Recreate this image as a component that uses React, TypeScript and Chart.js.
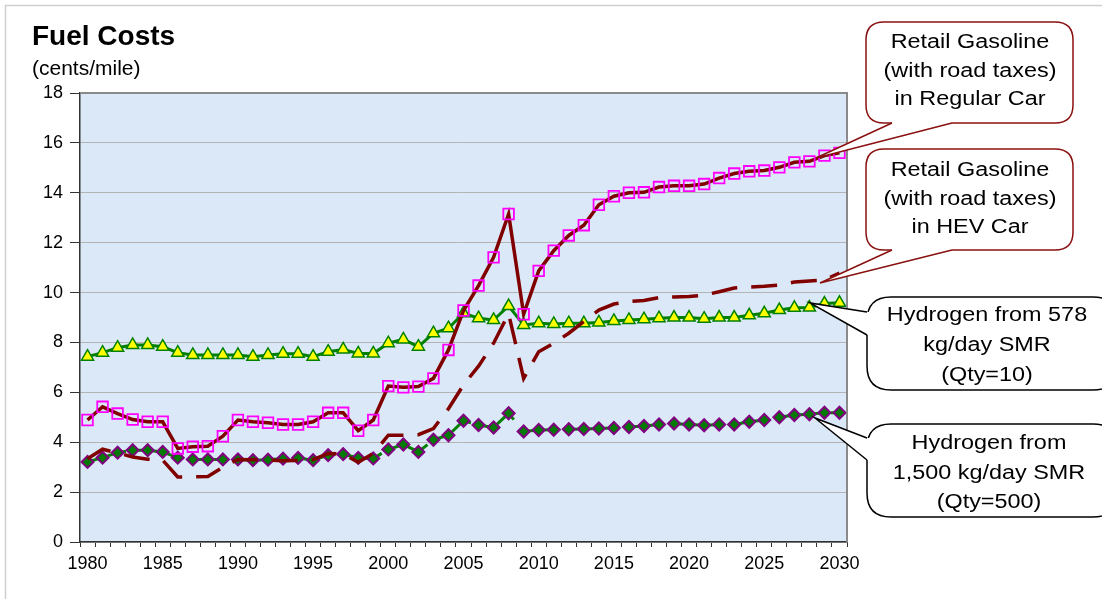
import React, { useEffect, useRef } from "react";
import { Chart, registerables } from "chart.js";

Chart.register(...registerables);

const years: number[] = [
  1980, 1981, 1982, 1983, 1984, 1985, 1986, 1987, 1988, 1989,
  1990, 1991, 1992, 1993, 1994, 1995, 1996, 1997, 1998, 1999,
  2000, 2001, 2002, 2003, 2004, 2005, 2006, 2007, 2008, 2009,
  2010, 2011, 2012, 2013, 2014, 2015, 2016, 2017, 2018, 2019,
  2020, 2021, 2022, 2023, 2024, 2025, 2026, 2027, 2028, 2029, 2030,
];

const labeledYears: number[] = [1980, 1985, 1990, 1995, 2000, 2005, 2010, 2015, 2020, 2025, 2030];

const yTicks = { min: 0, max: 18, step: 2 };

// Retail gasoline (with road taxes) in regular car
const regularCar: number[] = [
  4.89, 5.42, 5.15, 4.91, 4.82, 4.82, 3.75, 3.82, 3.84, 4.24,
  4.89, 4.82, 4.78, 4.71, 4.71, 4.82, 5.18, 5.18, 4.46, 4.89,
  6.25, 6.2, 6.23, 6.56, 7.7, 9.28, 10.28, 11.41, 13.15, 9.13,
  10.87, 11.68, 12.29, 12.7, 13.52, 13.86, 14.0, 14.02, 14.23, 14.28,
  14.28, 14.35, 14.59, 14.77, 14.86, 14.89, 15.02, 15.22, 15.26, 15.49, 15.6,
];

// Retail gasoline (with road taxes) in HEV car
const hevCar: number[] = [
  3.34, 3.72, 3.57, 3.41, 3.32, 3.28, 2.61, 2.61, 2.63, 3.0,
  3.31, 3.3, 3.28, 3.26, 3.27, 3.3, 3.55, 3.52, 3.2, 3.55,
  4.28, 4.28, 4.3, 4.55, 5.34, 6.3, 7.05, 7.97, 9.15, 6.56,
  7.63, 7.97, 8.37, 8.84, 9.3, 9.54, 9.64, 9.68, 9.8, 9.82,
  9.84, 9.9, 10.03, 10.18, 10.22, 10.25, 10.3, 10.42, 10.46, 10.5, 10.78,
];

// Hydrogen from 578 kg/day SMR (Qty=10)
const h2Small: number[] = [
  7.43, 7.59, 7.79, 7.9, 7.9, 7.83, 7.59, 7.5, 7.5, 7.5,
  7.5, 7.43, 7.5, 7.55, 7.55, 7.43, 7.63, 7.72, 7.56, 7.56,
  7.97, 8.12, 7.83, 8.37, 8.57, 9.17, 8.97, 8.9, 9.46, 8.7,
  8.77, 8.74, 8.77, 8.77, 8.8, 8.86, 8.9, 8.93, 8.97, 9.0,
  9.0, 8.95, 9.0, 9.0, 9.09, 9.17, 9.3, 9.39, 9.4, 9.56, 9.59,
];

// Hydrogen from 1,500 kg/day SMR (Qty=500)
const h2Large: number[] = [
  3.21, 3.38, 3.58, 3.68, 3.68, 3.61, 3.38, 3.31, 3.31, 3.31,
  3.31, 3.28, 3.3, 3.34, 3.37, 3.28, 3.48, 3.52, 3.37, 3.35,
  3.71, 3.91, 3.61, 4.1, 4.28, 4.86, 4.69, 4.59, 5.16, 4.43,
  4.49, 4.5, 4.52, 4.53, 4.55, 4.57, 4.61, 4.65, 4.71, 4.75,
  4.71, 4.68, 4.71, 4.71, 4.82, 4.89, 5.0, 5.09, 5.12, 5.18, 5.18,
];

const titleText = "Fuel Costs";
const unitText = "(cents/mile)";

const calloutRegular: string[] = ["Retail Gasoline", "(with road taxes)", "in Regular Car"];
const calloutHev: string[] = ["Retail Gasoline", "(with road taxes)", "in HEV Car"];
const calloutH2Small: string[] = ["Hydrogen from 578", "kg/day SMR", "(Qty=10)"];
const calloutH2Large: string[] = ["Hydrogen from", "1,500 kg/day SMR", "(Qty=500)"];

const FONT = '"Liberation Sans", Arial, Helvetica, sans-serif';

type Pt = [number, number];

function roundRectPath(ctx: CanvasRenderingContext2D, x: number, y: number, w: number, h: number, r: number) {
  ctx.beginPath();
  ctx.moveTo(x + r, y);
  ctx.lineTo(x + w - r, y);
  ctx.quadraticCurveTo(x + w, y, x + w, y + r);
  ctx.lineTo(x + w, y + h - r);
  ctx.quadraticCurveTo(x + w, y + h, x + w - r, y + h);
  ctx.lineTo(x + r, y + h);
  ctx.quadraticCurveTo(x, y + h, x, y + h - r);
  ctx.lineTo(x, y + r);
  ctx.quadraticCurveTo(x, y, x + r, y);
  ctx.closePath();
}

function drawCallout(
  ctx: CanvasRenderingContext2D,
  box: { x: number; y: number; w: number; h: number; r: number },
  stroke: string,
  base1: Pt,
  base2: Pt,
  inward: Pt,
  tip: Pt,
  lines: string[],
  lineYs: number[],
  cx: number
) {
  ctx.save();
  ctx.lineWidth = 1.5;
  ctx.strokeStyle = stroke;
  ctx.fillStyle = "#ffffff";
  roundRectPath(ctx, box.x, box.y, box.w, box.h, box.r);
  ctx.fill();
  ctx.stroke();
  ctx.beginPath();
  ctx.moveTo(base1[0], base1[1]);
  ctx.lineTo(tip[0], tip[1]);
  ctx.lineTo(base2[0], base2[1]);
  ctx.lineTo(base2[0] + inward[0], base2[1] + inward[1]);
  ctx.lineTo(base1[0] + inward[0], base1[1] + inward[1]);
  ctx.closePath();
  ctx.fill();
  ctx.beginPath();
  ctx.moveTo(base1[0], base1[1]);
  ctx.lineTo(tip[0], tip[1]);
  ctx.lineTo(base2[0], base2[1]);
  ctx.stroke();
  ctx.fillStyle = "#000000";
  ctx.font = `20px ${FONT}`;
  ctx.textAlign = "center";
  ctx.textBaseline = "middle";
  lines.forEach((t, i) => {
    ctx.save();
    ctx.translate(cx, lineYs[i]);
    ctx.scale(1.17, 1);
    ctx.fillText(t, 0, 0);
    ctx.restore();
  });
  ctx.restore();
}

const decorPlugin = {
  id: "decor",
  beforeDraw(chart: any) {
    const { ctx, chartArea } = chart;
    ctx.save();
    ctx.fillStyle = "#ffffff";
    ctx.fillRect(0, 0, chart.width, chart.height);
    ctx.strokeStyle = "#cfcfcf";
    ctx.lineWidth = 1.5;
    ctx.strokeRect(5.5, 5.5, chart.width + 20, chart.height + 20);
    ctx.fillStyle = "#dbe8f7";
    ctx.fillRect(chartArea.left, chartArea.top, chartArea.right - chartArea.left, chartArea.bottom - chartArea.top);
    ctx.restore();
  },
  afterDraw(chart: any) {
    const { ctx, chartArea } = chart;
    ctx.save();
    ctx.strokeStyle = "#8a8a8a";
    ctx.lineWidth = 2;
    ctx.beginPath();
    ctx.moveTo(chartArea.left, chartArea.top);
    ctx.lineTo(chartArea.right, chartArea.top);
    ctx.lineTo(chartArea.right, chartArea.bottom);
    ctx.stroke();
    ctx.fillStyle = "#000000";
    ctx.textAlign = "left";
    ctx.textBaseline = "alphabetic";
    ctx.font = `bold 28px ${FONT}`;
    ctx.fillText(titleText, 32, 45);
    ctx.font = `21px ${FONT}`;
    ctx.fillText(unitText, 32, 75);
    ctx.restore();

    const red = "#8b1010";
    drawCallout(ctx, { x: 866, y: 22, w: 207, h: 101, r: 18 }, red,
      [892, 123], [952, 123], [0, -3], [816, 158], calloutRegular, [42, 71, 99], 970);
    drawCallout(ctx, { x: 866, y: 149, w: 207, h: 101, r: 18 }, red,
      [892, 250], [952, 250], [0, -3], [820, 283], calloutHev, [170, 199, 227], 970);
    drawCallout(ctx, { x: 867, y: 297, w: 250, h: 93, r: 24 }, "#000000",
      [867, 312], [867, 335], [3, 0], [810, 303], calloutH2Small, [315, 345, 375], 987);
    drawCallout(ctx, { x: 867, y: 424, w: 250, h: 93, r: 24 }, "#000000",
      [867, 438], [867, 460], [3, 0], [815, 418], calloutH2Large, [443, 473, 502], 989);
  },
};

export default function App() {
  const ref = useRef<HTMLCanvasElement | null>(null);

  useEffect(() => {
    if (!ref.current) return;
    const chart = new Chart(ref.current, {
      type: "line",
      data: {
        labels: years.map(String),
        datasets: [
          {
            label: "Regular Car",
            data: regularCar,
            borderColor: "#800000",
            borderWidth: 3.5,
            pointStyle: "rect",
            pointRadius: 7.5,
            pointBorderColor: "#ff00ff",
            pointBackgroundColor: "rgba(0,0,0,0)",
            pointBorderWidth: 1.8,
            tension: 0,
            order: 0,
          },
          {
            label: "HEV Car",
            data: hevCar,
            borderColor: "#800000",
            borderWidth: 3.5,
            borderDash: [26, 14],
            pointRadius: 0,
            tension: 0,
            order: 1,
          },
          {
            label: "H2 578",
            data: h2Small,
            borderColor: "#008000",
            borderWidth: 3,
            pointStyle: "triangle",
            pointRadius: 7,
            pointBackgroundColor: "#ffff00",
            pointBorderColor: "#008000",
            pointBorderWidth: 1.5,
            tension: 0,
            order: 2,
          },
          {
            label: "H2 1500",
            data: h2Large,
            borderColor: "#008000",
            borderWidth: 3,
            borderDash: [40, 12],
            pointStyle: "rectRot",
            pointRadius: 6,
            pointBackgroundColor: "#007a00",
            pointBorderColor: "#800080",
            pointBorderWidth: 2,
            tension: 0,
            order: 3,
          },
        ],
      },
      options: {
        animation: false,
        responsive: false,
        devicePixelRatio: 1,
        layout: { padding: { left: 0, top: 93, right: 255, bottom: 0 } },
        plugins: {
          legend: { display: false },
          title: { display: false },
          tooltip: { enabled: false },
        },
        scales: {
          x: {
            type: "category",
            offset: true,
            grid: {
              display: true,
              drawOnChartArea: false,
              drawTicks: true,
              tickLength: 5,
              tickColor: "#333333",
              offset: true,
            },
            border: { display: true, color: "#333333", width: 1.5 },
            ticks: {
              autoSkip: false,
              maxRotation: 0,
              minRotation: 0,
              padding: 6,
              color: "#000000",
              font: { family: FONT, size: 18 },
              callback: (_v: any, i: number) =>
                labeledYears.includes(years[i]) ? String(years[i]) : "",
            },
            afterFit: (s: any) => {
              s.height = 57;
            },
          },
          y: {
            min: yTicks.min,
            max: yTicks.max,
            ticks: {
              stepSize: yTicks.step,
              padding: 7,
              color: "#000000",
              font: { family: FONT, size: 18 },
            },
            grid: { color: "#b4b4b4", lineWidth: 1, tickLength: 10, tickColor: "#333333" },
            border: { display: true, color: "#333333", width: 1.5 },
            afterFit: (s: any) => {
              s.width = 80;
            },
          },
        },
      } as any,
      plugins: [decorPlugin],
    });
    return () => chart.destroy();
  }, []);

  return (
    <div style={{ position: "absolute", left: 0, top: 0, width: 1102, height: 599 }}>
      <canvas ref={ref} width={1102} height={599} style={{ display: "block" }} />
    </div>
  );
}
